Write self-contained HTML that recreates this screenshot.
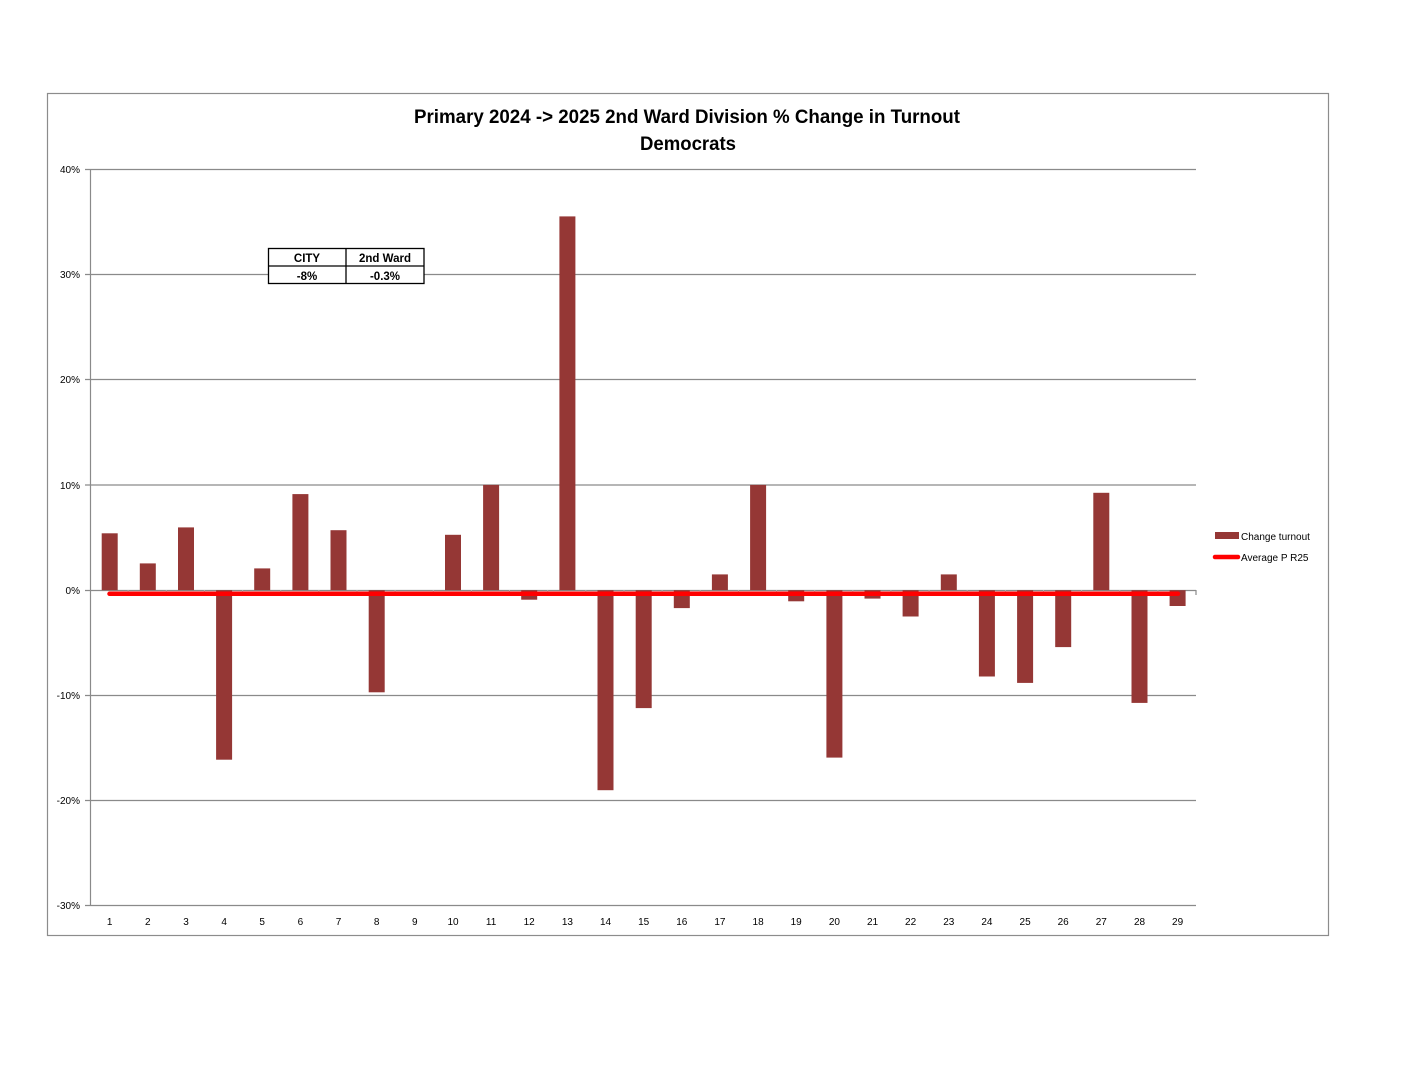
<!DOCTYPE html>
<html><head><meta charset="utf-8"><style>
html,body{margin:0;padding:0;background:#fff;}
svg{display:block;}
text{font-family:"Liberation Sans",sans-serif;fill:#000;}
</style></head><body>
<svg width="1408" height="1088" viewBox="0 0 1408 1088" xmlns="http://www.w3.org/2000/svg">
<rect x="0" y="0" width="1408" height="1088" fill="#fff"/>
<rect x="47.5" y="93.5" width="1281" height="842" fill="none" stroke="#8c8c8c" stroke-width="1.2"/>
<text x="687" y="123" font-size="19" font-weight="bold" text-anchor="middle" textLength="546" lengthAdjust="spacingAndGlyphs">Primary 2024 -&gt; 2025 2nd Ward Division % Change in Turnout</text>
<text x="688" y="150" font-size="19" font-weight="bold" text-anchor="middle" textLength="96" lengthAdjust="spacingAndGlyphs">Democrats</text>
<g stroke="#8a8a8a" stroke-width="1.2">
<line x1="85" y1="169.5" x2="1196" y2="169.5"/>
<line x1="85" y1="274.5" x2="1196" y2="274.5"/>
<line x1="85" y1="379.5" x2="1196" y2="379.5"/>
<line x1="85" y1="485" x2="1196" y2="485"/>
<line x1="85" y1="590.5" x2="1196" y2="590.5"/>
<line x1="85" y1="695.5" x2="1196" y2="695.5"/>
<line x1="85" y1="800.5" x2="1196" y2="800.5"/>
<line x1="85" y1="905.5" x2="1196" y2="905.5"/>
<line x1="90.5" y1="169" x2="90.5" y2="906"/>
<line x1="1196" y1="590" x2="1196" y2="595"/>
</g>
<g stroke="#b0b0b0" stroke-width="1">
<line x1="128.1" y1="590" x2="128.1" y2="594"/><line x1="166.3" y1="590" x2="166.3" y2="594"/><line x1="204.4" y1="590" x2="204.4" y2="594"/><line x1="242.6" y1="590" x2="242.6" y2="594"/><line x1="280.7" y1="590" x2="280.7" y2="594"/><line x1="318.8" y1="590" x2="318.8" y2="594"/><line x1="357" y1="590" x2="357" y2="594"/><line x1="395.1" y1="590" x2="395.1" y2="594"/><line x1="433.3" y1="590" x2="433.3" y2="594"/><line x1="471.4" y1="590" x2="471.4" y2="594"/><line x1="509.5" y1="590" x2="509.5" y2="594"/><line x1="547.7" y1="590" x2="547.7" y2="594"/><line x1="585.8" y1="590" x2="585.8" y2="594"/><line x1="624" y1="590" x2="624" y2="594"/><line x1="662.1" y1="590" x2="662.1" y2="594"/><line x1="700.2" y1="590" x2="700.2" y2="594"/><line x1="738.4" y1="590" x2="738.4" y2="594"/><line x1="776.5" y1="590" x2="776.5" y2="594"/><line x1="814.7" y1="590" x2="814.7" y2="594"/><line x1="852.8" y1="590" x2="852.8" y2="594"/><line x1="890.9" y1="590" x2="890.9" y2="594"/><line x1="929.1" y1="590" x2="929.1" y2="594"/><line x1="967.2" y1="590" x2="967.2" y2="594"/><line x1="1005.4" y1="590" x2="1005.4" y2="594"/><line x1="1043.5" y1="590" x2="1043.5" y2="594"/><line x1="1081.6" y1="590" x2="1081.6" y2="594"/><line x1="1119.8" y1="590" x2="1119.8" y2="594"/><line x1="1157.9" y1="590" x2="1157.9" y2="594"/>
</g>
<g font-size="10" text-anchor="end">
<text x="80" y="173">40%</text>
<text x="80" y="278">30%</text>
<text x="80" y="383">20%</text>
<text x="80" y="489">10%</text>
<text x="80" y="594">0%</text>
<text x="80" y="699">-10%</text>
<text x="80" y="804">-20%</text>
<text x="80" y="909">-30%</text>
</g>
<g fill="#953735">
<rect x="101.7" y="533.3" width="16" height="56.9"/>
<rect x="139.8" y="563.4" width="16" height="26.8"/>
<rect x="178" y="527.4" width="16" height="62.8"/>
<rect x="216.1" y="590.2" width="16" height="169.5"/>
<rect x="254.2" y="568.4" width="16" height="21.8"/>
<rect x="292.4" y="494.1" width="16" height="96.1"/>
<rect x="330.5" y="530.2" width="16" height="60"/>
<rect x="368.7" y="590.2" width="16" height="102.1"/>
<rect x="445" y="534.8" width="16" height="55.4"/>
<rect x="483.1" y="484.9" width="16" height="105.3"/>
<rect x="521.2" y="590.2" width="16" height="9.5"/>
<rect x="559.4" y="216.4" width="16" height="373.8"/>
<rect x="597.5" y="590.2" width="16" height="200"/>
<rect x="635.7" y="590.2" width="16" height="117.9"/>
<rect x="673.8" y="590.2" width="16" height="17.9"/>
<rect x="711.9" y="574.4" width="16" height="15.8"/>
<rect x="750.1" y="484.9" width="16" height="105.3"/>
<rect x="788.2" y="590.2" width="16" height="11.1"/>
<rect x="826.4" y="590.2" width="16" height="167.4"/>
<rect x="864.5" y="590.2" width="16" height="8.4"/>
<rect x="902.6" y="590.2" width="16" height="26.3"/>
<rect x="940.8" y="574.4" width="16" height="15.8"/>
<rect x="978.9" y="590.2" width="16" height="86.3"/>
<rect x="1017.1" y="590.2" width="16" height="92.7"/>
<rect x="1055.2" y="590.2" width="16" height="56.9"/>
<rect x="1093.3" y="492.8" width="16" height="97.4"/>
<rect x="1131.5" y="590.2" width="16" height="112.7"/>
<rect x="1169.6" y="590.2" width="16" height="15.8"/>
</g>
<line x1="109.5" y1="593.8" x2="1178" y2="593.8" stroke="#ff0000" stroke-width="4.5" stroke-linecap="round"/>
<g font-size="10" text-anchor="middle">
<text x="109.7" y="925">1</text><text x="147.8" y="925">2</text><text x="186" y="925">3</text><text x="224.1" y="925">4</text><text x="262.2" y="925">5</text><text x="300.4" y="925">6</text><text x="338.5" y="925">7</text><text x="376.7" y="925">8</text><text x="414.8" y="925">9</text><text x="453" y="925">10</text><text x="491.1" y="925">11</text><text x="529.2" y="925">12</text><text x="567.4" y="925">13</text><text x="605.5" y="925">14</text><text x="643.7" y="925">15</text><text x="681.8" y="925">16</text><text x="719.9" y="925">17</text><text x="758.1" y="925">18</text><text x="796.2" y="925">19</text><text x="834.4" y="925">20</text><text x="872.5" y="925">21</text><text x="910.6" y="925">22</text><text x="948.8" y="925">23</text><text x="986.9" y="925">24</text><text x="1025.1" y="925">25</text><text x="1063.2" y="925">26</text><text x="1101.3" y="925">27</text><text x="1139.5" y="925">28</text><text x="1177.6" y="925">29</text>
</g>
<g stroke="#000" stroke-width="1.3" fill="#fff">
<rect x="268.5" y="248.5" width="155.5" height="35"/>
<line x1="346" y1="248.5" x2="346" y2="283.5"/>
<line x1="268.5" y1="266" x2="424" y2="266"/>
</g>
<g font-size="11.5" font-weight="bold" text-anchor="middle">
<text x="307" y="262">CITY</text>
<text x="385" y="262">2nd Ward</text>
<text x="307" y="280">-8%</text>
<text x="385" y="280">-0.3%</text>
</g>
<rect x="1215" y="532" width="24" height="7" fill="#953735"/>
<line x1="1215" y1="557" x2="1238" y2="557" stroke="#ff0000" stroke-width="4.5" stroke-linecap="round"/>
<g font-size="10">
<text x="1241" y="540">Change turnout</text>
<text x="1241" y="561">Average P R25</text>
</g>
</svg>
</body></html>
